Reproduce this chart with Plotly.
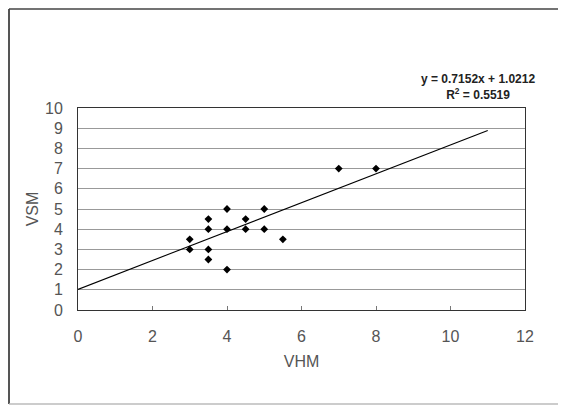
import plotly.graph_objects as go

vhm = [3, 3, 3.5, 3.5, 3.5, 3.5, 4, 4, 4, 4.5, 4.5, 5, 5, 5.5, 7, 8]
vsm = [3.5, 3, 4.5, 4, 3, 2.5, 5, 4, 2, 4.5, 4, 5, 4, 3.5, 7, 7]
slope = 0.7152
intercept = 1.0212
trend_x = [0, 11]
x_ticks = [0, 2, 4, 6, 8, 10, 12]
y_ticks = list(range(0, 11))

# page body adds 8px offset
W, H = 558, 397
L, R, T, B = 70, 41, 100, 95
PW, PH = W - L - R, H - T - B

fig = go.Figure()
fig.add_trace(go.Scatter(
    x=vhm, y=vsm, mode="markers",
    marker=dict(symbol="diamond", size=6, color="black"),
    showlegend=False, hoverinfo="skip"))
fig.add_trace(go.Scatter(
    x=trend_x, y=[slope * v + intercept for v in trend_x], mode="lines",
    line=dict(color="black", width=1.1), showlegend=False, hoverinfo="skip"))

fnt = "Liberation Sans, Arial, sans-serif"
tick_font = dict(family=fnt, size=16, color="#555")

x_left = -(L - 1) / PW
x_right = 1 + (R + 20) / PW
y_bot = -(B - 1) / PH
y_top = 1 + (T - 1) / PH

fig.update_layout(
    width=W, height=H,
    margin=dict(l=L, r=R, t=T, b=B),
    paper_bgcolor="white", plot_bgcolor="white",
    font=dict(family=fnt, size=16, color="#555"),
    xaxis=dict(range=[0, 12], tickvals=x_ticks, showgrid=False, zeroline=False,
               showline=True, linecolor="#333", linewidth=1, mirror=True,
               ticks="inside", ticklen=4, tickcolor="#777",
               tickfont=tick_font, ticklabelstandoff=12,
               title=dict(text="VHM", font=dict(family=fnt, size=16, color="#555"), standoff=11),
               fixedrange=True),
    yaxis=dict(range=[0, 10], tickvals=y_ticks, showgrid=True, gridcolor="#999",
               gridwidth=1, zeroline=False,
               showline=True, linecolor="#333", linewidth=1, mirror=True,
               ticks="", ticklabelstandoff=11, tickfont=tick_font,
               title=dict(text="VSM", font=dict(family=fnt, size=16, color="#555"), standoff=2),
               fixedrange=True),
    annotations=[
        dict(text="<b>y = 0.7152x + 1.0212</b><br><b>R<sup>2</sup> = 0.5519</b>",
             xref="paper", yref="paper", x=(470 - L) / PW,
             y=1 + (T - 79) / PH,
             xanchor="center", yanchor="middle", showarrow=False, align="center",
             font=dict(family=fnt, size=12, color="#222"))
    ],
    shapes=[
        dict(type="line", xref="paper", yref="paper",
             x0=x_left, x1=x_left, y0=y_bot, y1=y_top,
             line=dict(color="#555", width=2), layer="below"),
        dict(type="line", xref="paper", yref="paper",
             x0=x_left, x1=x_right, y0=y_top, y1=y_top,
             line=dict(color="#444", width=1.5), layer="below"),
        dict(type="line", xref="paper", yref="paper",
             x0=x_left, x1=x_right, y0=y_bot, y1=y_bot,
             line=dict(color="#bbb", width=1.5), layer="below"),
    ],
)

fig.write_html("out.html")
